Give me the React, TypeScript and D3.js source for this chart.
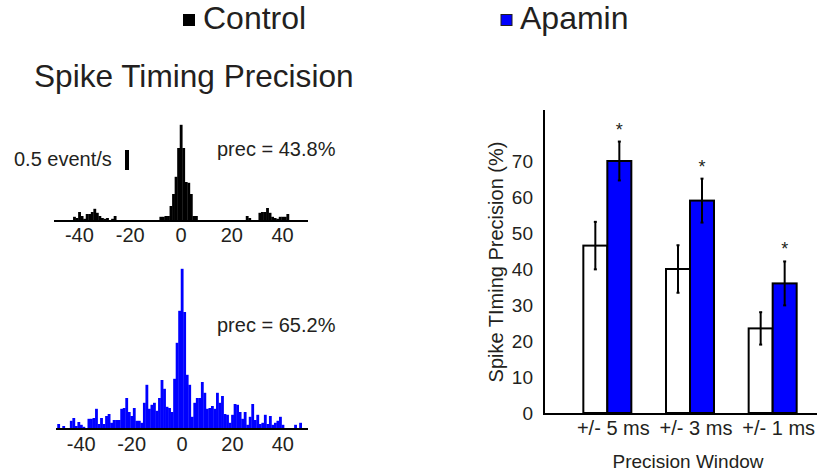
import * as d3 from 'd3';

// histogram bins (ms), centred on each integer lag
const lags = d3.range(-50, 50);
const histTicks = [-40, -20, 0, 20, 40];

// event/s per 1 ms bin
const controlHist = [
  0, 0, 0, 0, 0, 0, 0, 0, 0.08, 0.05,
  0.2, 0.1, 0.03, 0.15, 0.15, 0.2, 0.28, 0.18, 0.1, 0.05,
  0.03, 0.05, 0, 0.03, 0.1, 0, 0, 0, 0, 0,
  0, 0, 0, 0, 0, 0, 0, 0, 0, 0,
  0, 0, 0.08, 0.08, 0.1, 0.1, 0.35, 0.65, 1.08, 1.8,
  2.38, 1.8, 0.95, 0.93, 0.65, 0.1, 0.1, 0, 0, 0,
  0, 0, 0, 0, 0, 0, 0, 0, 0, 0,
  0, 0, 0, 0, 0, 0, 0.1, 0.05, 0, 0,
  0, 0.18, 0.2, 0.2, 0.3, 0.18, 0.08, 0.05, 0.03, 0.08,
  0.08, 0.08, 0.15, 0, 0, 0, 0, 0, 0, 0,
];

const apaminHist = [
  0, 0.1, 0, 0.05, 0, 0, 0.18, 0.25, 0.05, 0.15,
  0.08, 0.03, 0, 0.23, 0.23, 0.25, 0.48, 0.1, 0.25, 0.1,
  0.3, 0.35, 0.13, 0.2, 0.2, 0.2, 0.48, 0.5, 0.75, 0.4,
  0.3, 0.5, 0.18, 0.18, 0.13, 0.63, 1.08, 0.48, 0.58, 0.63,
  0.43, 0.75, 1.2, 0.98, 0.53, 0.5, 0.4, 1.23, 2.13, 2.93,
  3.98, 2.9, 1.33, 1.08, 0.28, 0.63, 0.75, 0.75, 1.15, 0.88,
  0.48, 0.5, 0.55, 0.48, 0.88, 0.63, 0.8, 0.35, 0.33, 0.13,
  0.33, 0.6, 0.58, 0.4, 0.23, 0.4, 0.08, 0.28, 0.6, 0.2,
  0.33, 0.1, 0.13, 0.33, 0.1, 0.3, 0.08, 0.13, 0.18, 0.28,
  0.08, 0, 0, 0, 0, 0.08, 0, 0.13, 0, 0,
];

// bar chart
const windows = ['+/- 5 ms', '+/- 3 ms', '+/- 1 ms'];
const controlPrec = [46.5, 40, 23.5];
const controlErr = [6.6, 6.6, 4.5];
const apaminPrec = [70, 59, 36];
const apaminErr = [5.4, 6.1, 6.1];
const precTicks = [0, 10, 20, 30, 40, 50, 60, 70];

const INK = '#231f20';
const BLUE = '#0000ff';
const FONT = 'Liberation Sans, Arial, sans-serif';

const rate = d3.scaleLinear().domain([0, 1]).range([0, 40]);

function Histogram({ values, color, base, x0, x1, tickY, label, labelY }: any) {
  const x = d3.scaleLinear().domain([-50, 50]).range([x0, x1]);
  return (
    <g>
      {values.map((v: number, i: number) =>
        v > 0 ? (
          <rect
            key={i}
            x={x(lags[i] - 0.5)}
            y={base - rate(v)}
            width={x(lags[i] + 0.5) - x(lags[i] - 0.5) + 0.3}
            height={rate(v)}
            fill={color}
          />
        ) : null
      )}
      <line x1={x0} x2={x1} y1={base + 1} y2={base + 1} stroke="#000" strokeWidth={2} />
      {histTicks.map((t) => (
        <text key={t} x={x(t)} y={tickY} textAnchor="middle" fontSize={20} fill={INK}>
          {t}
        </text>
      ))}
      <text x={217} y={labelY} fontSize={20} fill={INK}>
        {label}
      </text>
    </g>
  );
}

export default function App() {
  const y = d3.scaleLinear().domain([0, 80]).range([413, 125]);
  const x = d3.scaleBand().domain(windows).range([566, 814]).paddingInner(0).paddingOuter(0);
  const barW = 24;

  return (
    <svg
      width={817}
      height={474}
      style={{ position: 'absolute', left: 0, top: 0, background: '#fff' }}
      fontFamily={FONT}
    >
      {/* legend */}
      <rect x={183} y={14} width={12} height={12} fill="#000" />
      <text x={203} y={29} fontSize={32} fill={INK}>Control</text>
      <rect x={501} y={14.5} width={11} height={11} fill={BLUE} stroke={INK} strokeWidth={1} />
      <text x={520} y={29} fontSize={32} fill={INK}>Apamin</text>

      <text x={34} y={87} fontSize={31.6} fill={INK}>Spike Timing Precision</text>

      {/* scale bar */}
      <text x={14} y={166} fontSize={20} fill={INK}>0.5 event/s</text>
      <rect x={125} y={170 - rate(0.5)} width={4} height={rate(0.5)} fill="#000" />

      <Histogram values={controlHist} color="#000" base={220} x0={54} x1={308} tickY={242} label="prec = 43.8%" labelY={156} />
      <Histogram values={apaminHist} color={BLUE} base={428} x0={56} x1={308} tickY={451} label="prec = 65.2%" labelY={332} />

      {/* bar chart */}
      {windows.map((w, i) => {
        const c = x(w)! + x.bandwidth() / 2;
        const bars = [
          { v: controlPrec[i], e: controlErr[i], fill: '#fff', left: c - barW },
          { v: apaminPrec[i], e: apaminErr[i], fill: BLUE, left: c },
        ];
        return (
          <g key={w}>
            {bars.map((b, j) => (
              <g key={j}>
                <rect x={b.left} y={y(b.v)} width={barW} height={y(0) - y(b.v)} fill={b.fill} stroke="#000" strokeWidth={2} />
                <line x1={b.left + barW / 2} x2={b.left + barW / 2} y1={y(b.v + b.e)} y2={y(b.v - b.e)} stroke="#000" strokeWidth={2} />
                <line x1={b.left + barW / 2 - 1.5} x2={b.left + barW / 2 + 1.5} y1={y(b.v + b.e)} y2={y(b.v + b.e)} stroke="#000" strokeWidth={2} />
                <line x1={b.left + barW / 2 - 1.5} x2={b.left + barW / 2 + 1.5} y1={y(b.v - b.e)} y2={y(b.v - b.e)} stroke="#000" strokeWidth={2} />
              </g>
            ))}
            <text x={c + barW / 2} y={y(apaminPrec[i] + apaminErr[i]) - 6} textAnchor="middle" fontSize={18} fill={INK}>*</text>
            <text x={c + 6} y={435} textAnchor="middle" fontSize={20} fill={INK}>{w}</text>
          </g>
        );
      })}
      <line x1={544} x2={544} y1={110} y2={y(0) + 1} stroke="#000" strokeWidth={2} />
      <line x1={543} x2={817} y1={y(0) + 1} y2={y(0) + 1} stroke="#000" strokeWidth={2} />
      {precTicks.map((t) => (
        <text key={t} x={533} y={y(t) + 7} textAnchor="end" fontSize={19} fill={INK}>{t}</text>
      ))}
      <text transform={`translate(503,262) rotate(-90)`} textAnchor="middle" fontSize={20} fill={INK}>
        Spike TIming Precision (%)
      </text>
      <text x={688} y={468} textAnchor="middle" fontSize={19} fill={INK}>Precision Window</text>
    </svg>
  );
}
